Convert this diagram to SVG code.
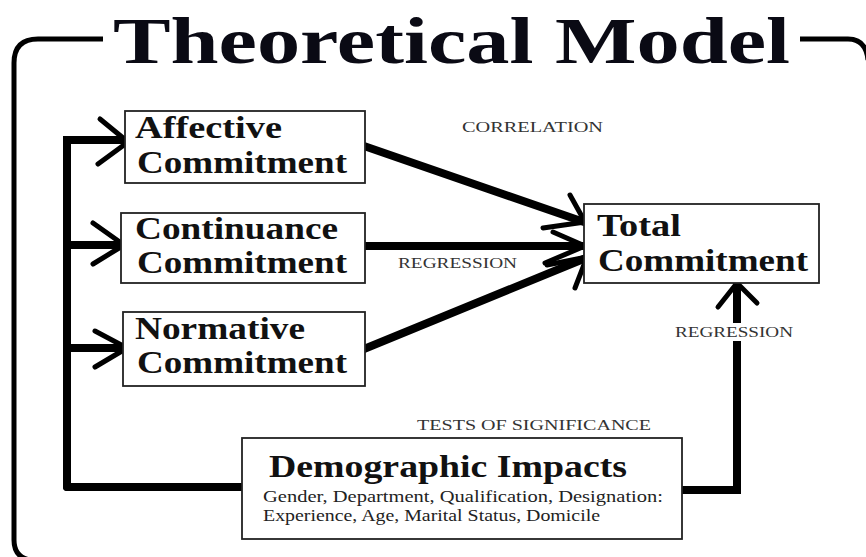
<svg xmlns="http://www.w3.org/2000/svg" width="866" height="557" viewBox="0 0 866 557">
<style>
.box{fill:#fff;stroke:#222;stroke-width:1.8}
.bt{font-family:"Liberation Serif","Times New Roman",serif;font-weight:bold;font-size:31px;fill:#111}
.lbl{font-family:"Liberation Serif","Times New Roman",serif;font-size:15px;fill:#333}
.small{font-family:"Liberation Serif","Times New Roman",serif;font-size:17px;fill:#222}
.ln{fill:none;stroke:#000;stroke-width:8;stroke-linecap:round;stroke-linejoin:miter}
.ah{fill:none;stroke:#000;stroke-width:5;stroke-linecap:round;stroke-linejoin:round}
.frame{fill:none;stroke:#000;stroke-width:5}
</style>
<rect width="866" height="557" fill="#fff"/>
<g id="frame">
<path class="frame" d="M103 39 H38 Q14 39 14 63 V540 Q14 557 30 560"/>
<path class="frame" d="M800 39 H848 Q866 39 868 60"/>
<text x="113" y="63" font-family="'Liberation Serif','Times New Roman',serif" font-weight="bold" font-size="66" fill="#0a0a14" textLength="677" lengthAdjust="spacingAndGlyphs">Theoretical Model</text>
</g>
<g id="connectors">
<path class="ln" d="M67 487 V140 H124"/>
<path class="ln" d="M67 245 H122"/>
<path class="ln" d="M67 348 H124"/>
<path class="ln" d="M67 487 H242"/>
<polyline class="ah" points="100,119 128,142 98,164"/>
<polyline class="ah" points="93,223 124,245 93,264"/>
<polyline class="ah" points="95,331 127,348 95,367"/>
<path class="ln" d="M364 146 L584 222"/>
<path class="ln" d="M364 246 L584 246"/>
<path class="ln" d="M364 349 L586 258"/>
<polyline class="ah" points="570,195 585,222 543,228"/>
<polyline class="ah" points="553,232 585,246 545,263"/>
<polyline class="ah" points="547,265 587,257 575,288"/>
<path class="ln" d="M683 490 H737 V284"/>
<polyline class="ah" points="718,307 737,283 757,303"/>
<rect x="672" y="323" width="124" height="18" fill="#fff"/>
<text class="lbl" x="675" y="337" textLength="118" lengthAdjust="spacingAndGlyphs">REGRESSION</text>
<text class="lbl" x="462" y="132" textLength="141" lengthAdjust="spacingAndGlyphs">CORRELATION</text>
<text class="lbl" x="398" y="268" textLength="119" lengthAdjust="spacingAndGlyphs">REGRESSION</text>
<text class="lbl" x="417" y="430" textLength="234" lengthAdjust="spacingAndGlyphs">TESTS OF SIGNIFICANCE</text>
</g>
<g id="affective">
<rect class="box" x="125" y="111" width="240" height="72"/>
<text class="bt" x="135" y="138" textLength="147" lengthAdjust="spacingAndGlyphs">Affective</text>
<text class="bt" x="137" y="173" textLength="210" lengthAdjust="spacingAndGlyphs">Commitment</text>
</g>
<g id="continuance">
<rect class="box" x="121" y="213" width="244" height="70"/>
<text class="bt" x="135" y="239" textLength="203" lengthAdjust="spacingAndGlyphs">Continuance</text>
<text class="bt" x="137" y="273" textLength="210" lengthAdjust="spacingAndGlyphs">Commitment</text>
</g>
<g id="normative">
<rect class="box" x="123" y="312" width="242" height="74"/>
<text class="bt" x="135" y="339" textLength="170" lengthAdjust="spacingAndGlyphs">Normative</text>
<text class="bt" x="137" y="373" textLength="210" lengthAdjust="spacingAndGlyphs">Commitment</text>
</g>
<g id="total">
<rect class="box" x="584" y="204" width="235" height="79"/>
<text class="bt" x="597" y="236" textLength="84" lengthAdjust="spacingAndGlyphs">Total</text>
<text class="bt" x="598" y="271" textLength="210" lengthAdjust="spacingAndGlyphs">Commitment</text>
</g>
<g id="demographic">
<rect class="box" x="242" y="438" width="440" height="101"/>
<text class="bt" x="269" y="477" font-size="34" textLength="358" lengthAdjust="spacingAndGlyphs">Demographic Impacts</text>
<text class="small" x="263" y="502" textLength="400" lengthAdjust="spacingAndGlyphs">Gender, Department, Qualification, Designation:</text>
<text class="small" x="263" y="521" textLength="337" lengthAdjust="spacingAndGlyphs">Experience, Age, Marital Status, Domicile</text>
</g>
</svg>
